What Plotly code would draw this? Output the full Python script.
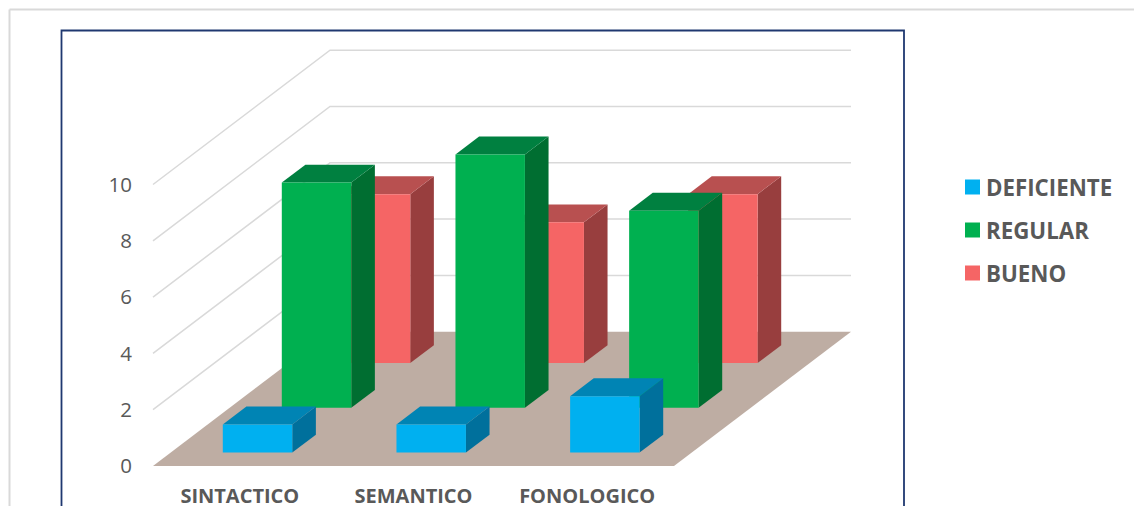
import plotly.graph_objects as go

# ---- data ----
categories = ["SINTACTICO", "SEMANTICO", "FONOLOGICO"]
deficiente = [1, 1, 2]
regular = [8, 9, 7]
bueno = [6, 5, 6]
value_ticks = [0, 2, 4, 6, 8, 10]
grid_values = [2, 4, 6, 8, 10]

# ---- styling ----
W, H = 1134, 506
ORIGIN_X, ORIGIN_Y = 153.0, 466.0    # pixel of front-left floor corner
CAT_PX, VAL_PX = 173.67, 28.15       # pixels per category / per value unit
DEPTH_X, DEPTH_Y = 177.0, 134.3      # oblique offset of full depth, pixels
BAR_W = 0.4
TEXT = "#595959"
FONT = "Open Sans"
series = [  # back to front: name, values, row, front, top, side
    ("BUENO", bueno, 2, "#F56565", "#B85050", "#983E3E"),
    ("REGULAR", regular, 1, "#00B050", "#008040", "#006E31"),
    ("DEFICIENTE", deficiente, 0, "#00B0F0", "#0084B4", "#00709C"),
]


def proj(c, v, d):
    """Category units, value units, depth (0..1) to axis coordinates."""
    return c + d * DEPTH_X / CAT_PX, v + d * DEPTH_Y / VAL_PX


def face(pts, color):
    xs, ys = zip(*[proj(*p) for p in pts + pts[:1]])
    return go.Scatter(x=xs, y=ys, mode="lines", fill="toself", fillcolor=color,
                      line=dict(width=0), hoverinfo="skip", showlegend=False)


def grid(pts):
    xs, ys = zip(*[proj(*p) for p in pts])
    return go.Scatter(x=xs, y=ys, mode="lines", line=dict(color="#D9D9D9", width=1.5),
                      hoverinfo="skip", showlegend=False)


fig = go.Figure()
n = len(categories)
for v in grid_values:
    fig.add_trace(grid([(0, v, 0), (0, v, 1), (n, v, 1)]))
fig.add_trace(face([(0, 0, 0), (n, 0, 0), (n, 0, 1), (0, 0, 1)], "#BEADA3"))

for name, vals, row, c_front, c_top, c_side in series:
    d0 = (row + 0.3) / 3
    d1 = (row + 0.7) / 3
    for i, v in enumerate(vals):
        c0 = i + (1 - BAR_W) / 2
        c1 = c0 + BAR_W
        fig.add_trace(face([(c1, 0, d0), (c1, 0, d1), (c1, v, d1), (c1, v, d0)], c_side))
        fig.add_trace(face([(c0, v, d0), (c1, v, d0), (c1, v, d1), (c0, v, d1)], c_top))
        fig.add_trace(face([(c0, 0, d0), (c1, 0, d0), (c1, v, d0), (c0, v, d0)], c_front))

shapes = [
    dict(type="line", xref="paper", yref="paper", x0=9.5 / W, x1=9.5 / W, y0=0, y1=1 - 9.5 / H,
         line=dict(color="#D9D9D9", width=2)),
    dict(type="line", xref="paper", yref="paper", x0=9.5 / W, x1=1, y0=1 - 9.5 / H, y1=1 - 9.5 / H,
         line=dict(color="#D9D9D9", width=2)),
    dict(type="path", xref="paper", yref="paper",
         path=f"M {61.5 / W} 0 L {61.5 / W} {1 - 30.5 / H} L {904 / W} {1 - 30.5 / H} L {904 / W} 0",
         line=dict(color="#1F3870", width=1.8)),
]
annotations = []
for (name, _, _, color, _, _), cy in zip(reversed(series), [187, 230, 273]):
    shapes.append(dict(type="rect", xref="paper", yref="paper", line=dict(width=0), fillcolor=color,
                       x0=965 / W, x1=980 / W, y0=1 - (cy + 7.5) / H, y1=1 - (cy - 7.5) / H))
    annotations.append(dict(text=f"<b>{name}</b>", xref="paper", yref="paper", x=983.5 / W, y=1 - cy / H,
                            xanchor="left", yanchor="middle", showarrow=False,
                            font=dict(family=FONT, size=22.3, color=TEXT)))

fig.update_layout(
    width=W, height=H, margin=dict(l=0, r=0, t=0, b=0, pad=0, autoexpand=False),
    paper_bgcolor="white", plot_bgcolor="white", showlegend=False,
    shapes=shapes, annotations=annotations,
    xaxis=dict(range=[-ORIGIN_X / CAT_PX, (W - ORIGIN_X) / CAT_PX], autorange=False,
               anchor="free", position=(H - 482) / H,
               tickvals=[i + 0.5 for i in range(n)], ticktext=[f"<b>{c}</b>" for c in categories],
               tickfont=dict(family=FONT, size=20, color=TEXT), showgrid=False, zeroline=False,
               showline=False, ticks="", fixedrange=True, automargin=False),
    yaxis=dict(range=[-(H - ORIGIN_Y) / VAL_PX, ORIGIN_Y / VAL_PX], autorange=False,
               anchor="free", position=ORIGIN_X / W,
               tickvals=value_ticks, tickfont=dict(family=FONT, size=20.5, color=TEXT),
               showgrid=False, zeroline=False, showline=False, ticks="outside", ticklen=17,
               tickcolor="rgba(0,0,0,0)", fixedrange=True, automargin=False),
)
fig.write_html("out.html", config=dict(displayModeBar=False),
               post_script="document.body.style.margin='0';document.body.style.overflow='hidden';")
